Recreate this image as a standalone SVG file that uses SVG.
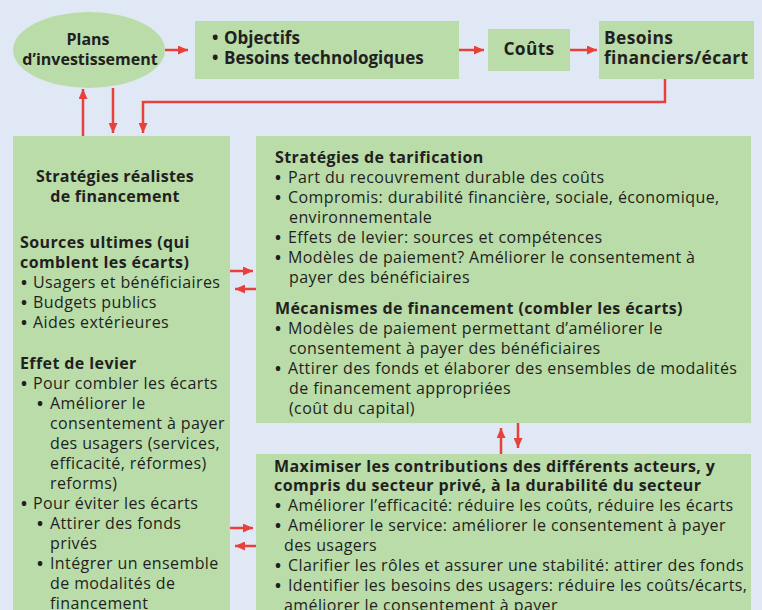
<svg xmlns="http://www.w3.org/2000/svg" width="762" height="610" viewBox="0 0 762 610">
  <defs>
    <marker id="arrow" markerUnits="userSpaceOnUse" markerWidth="10" markerHeight="9" refX="10" refY="4.5" orient="auto">
      <path d="M0,0 L10,4.5 L0,9 Z" fill="#e8403a"/>
    </marker>
    <style>
      .box { fill: #b9dca9; }
      text { font-family: "Open Sans", "Noto Sans", sans-serif; font-size: 16px; letter-spacing: 0.4px; fill: #231f20; }
      .b { font-weight: bold; }
      .mid { text-anchor: middle; }
      .dot { font-weight: bold; }
      .top { font-size: 17px; letter-spacing: 0; }
      .big { font-size: 17.4px; letter-spacing: 0.35px; }
      .link { fill: none; stroke: #e8403a; stroke-width: 2.5; marker-end: url(#arrow); }
    </style>
  </defs>

  <rect width="762" height="610" fill="#e1e8f5"/>

  <g id="plans">
    <ellipse class="box" cx="89" cy="50" rx="76" ry="38"/>
    <text class="b mid" style="letter-spacing:0"><tspan x="88" y="44.5">Plans</tspan><tspan x="90" y="64.5">d’investissement</tspan></text>
  </g>

  <g id="objectifs">
    <rect class="box" x="195" y="21" width="264" height="58"/>
    <text class="b top"><tspan x="212" y="44">•</tspan><tspan x="224" y="44">Objectifs</tspan><tspan x="212" y="64">•</tspan><tspan x="224" y="64">Besoins technologiques</tspan></text>
  </g>

  <g id="couts">
    <rect class="box" x="488" y="29" width="82" height="42"/>
    <text class="b mid big" x="529" y="54.5">Coûts</text>
  </g>

  <g id="besoins">
    <rect class="box" x="599" y="21" width="155" height="58"/>
    <text class="b big"><tspan x="604" y="44">Besoins</tspan><tspan x="604" y="64">financiers/écart</tspan></text>
  </g>

  <g id="strategies-realistes">
    <rect class="box" x="13" y="136" width="217" height="480"/>
    <text class="b mid" style="letter-spacing:0.25px"><tspan x="115" y="182">Stratégies réalistes</tspan><tspan x="115" y="202">de financement</tspan></text>
    <text class="b"><tspan x="20" y="248">Sources ultimes (qui</tspan><tspan x="20" y="268">comblent les écarts)</tspan></text>
    <text>
      <tspan class="dot" x="21" y="288">•</tspan><tspan x="33" y="288">Usagers et bénéficiaires</tspan>
      <tspan class="dot" x="21" y="308">•</tspan><tspan x="33" y="308">Budgets publics</tspan>
      <tspan class="dot" x="21" y="328">•</tspan><tspan x="33" y="328">Aides extérieures</tspan>
    </text>
    <text class="b" x="20" y="369">Effet de levier</text>
    <text>
      <tspan class="dot" x="21" y="389">•</tspan><tspan x="33" y="389">Pour combler les écarts</tspan>
      <tspan class="dot" x="37" y="409">•</tspan><tspan x="50" y="409">Améliorer le</tspan>
      <tspan x="50" y="429">consentement à payer</tspan>
      <tspan x="50" y="449">des usagers (services,</tspan>
      <tspan x="50" y="469">efficacité, réformes)</tspan>
      <tspan x="50" y="489">reforms)</tspan>
      <tspan class="dot" x="21" y="509">•</tspan><tspan x="33" y="509">Pour éviter les écarts</tspan>
      <tspan class="dot" x="37" y="529">•</tspan><tspan x="50" y="529">Attirer des fonds</tspan>
      <tspan x="50" y="549">privés</tspan>
      <tspan class="dot" x="37" y="569">•</tspan><tspan x="50" y="569">Intégrer un ensemble</tspan>
      <tspan x="50" y="589">de modalités de</tspan>
      <tspan x="50" y="609">financement</tspan>
    </text>
  </g>

  <g id="tarification">
    <rect class="box" x="256" y="136" width="495" height="287"/>
    <text class="b" x="275" y="163">Stratégies de tarification</text>
    <text>
      <tspan class="dot" x="275" y="183">•</tspan><tspan x="288" y="183">Part du recouvrement durable des coûts</tspan>
      <tspan class="dot" x="275" y="203">•</tspan><tspan x="288" y="203">Compromis: durabilité financière, sociale, économique,</tspan>
      <tspan x="289" y="223">environnementale</tspan>
      <tspan class="dot" x="275" y="243">•</tspan><tspan x="288" y="243">Effets de levier: sources et compétences</tspan>
      <tspan class="dot" x="275" y="263">•</tspan><tspan x="288" y="263">Modèles de paiement? Améliorer le consentement à</tspan>
      <tspan x="289" y="283">payer des bénéficiaires</tspan>
    </text>
    <text class="b" x="275" y="314">Mécanismes de financement (combler les écarts)</text>
    <text>
      <tspan class="dot" x="275" y="334">•</tspan><tspan x="288" y="334">Modèles de paiement permettant d’améliorer le</tspan>
      <tspan x="289" y="354">consentement à payer des bénéficiaires</tspan>
      <tspan class="dot" x="275" y="374">•</tspan><tspan x="288" y="374">Attirer des fonds et élaborer des ensembles de modalités</tspan>
      <tspan x="289" y="394">de financement appropriées</tspan>
      <tspan x="289" y="414">(coût du capital)</tspan>
    </text>
  </g>

  <g id="contributions">
    <rect class="box" x="256" y="454" width="495" height="160"/>
    <text class="b"><tspan x="274" y="472">Maximiser les contributions des différents acteurs, y</tspan><tspan x="274" y="491">compris du secteur privé, à la durabilité du secteur</tspan></text>
    <text>
      <tspan class="dot" x="275" y="511">•</tspan><tspan x="288" y="511">Améliorer l’efficacité: réduire les coûts, réduire les écarts</tspan>
      <tspan class="dot" x="275" y="531">•</tspan><tspan x="288" y="531">Améliorer le service: améliorer le consentement à payer</tspan>
      <tspan x="284" y="551">des usagers</tspan>
      <tspan class="dot" x="275" y="571">•</tspan><tspan x="288" y="571">Clarifier les rôles et assurer une stabilité: attirer des fonds</tspan>
      <tspan class="dot" x="275" y="591">•</tspan><tspan x="288" y="591">Identifier les besoins des usagers: réduire les coûts/écarts,</tspan>
      <tspan x="284" y="611">améliorer le consentement à payer</tspan>
    </text>
  </g>

  <g id="connectors">
    <path class="link" d="M165,50 H188"/>
    <path class="link" d="M459,50 H484"/>
    <path class="link" d="M570,50 H597"/>
    <path class="link" d="M665,79 V102 H143 V133"/>
    <path class="link" d="M83,136 V89"/>
    <path class="link" d="M113,88 V133"/>
    <path class="link" d="M230,271 H253"/>
    <path class="link" d="M256,289 H235"/>
    <path class="link" d="M501,454 V428"/>
    <path class="link" d="M518,423 V448"/>
    <path class="link" d="M230,528 H253"/>
    <path class="link" d="M256,546 H235"/>
  </g>
</svg>
